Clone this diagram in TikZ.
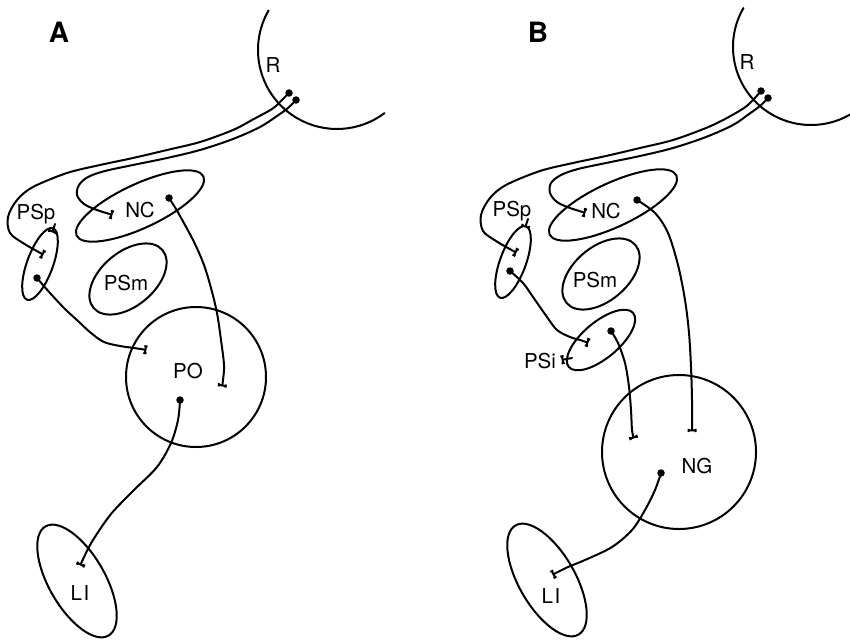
\documentclass[tikz,border=0pt]{standalone}
\usepackage{fontspec}
\setmainfont{TeX Gyre Heros}
\usetikzlibrary{arrows.meta,shapes.geometric}
\tikzset{
  lbl/.style={font=\fontsize{20.5}{24}\selectfont, inner sep=0pt},
  panel/.style={font=\fontsize{28}{32}\selectfont\bfseries, inner sep=0pt},
  fib/.style={line width=2pt, line cap=round, -{Tee Barb[width=9pt,length=3.2pt]}},
  fib0/.style={line width=2pt, line cap=round},
  region/.style={draw, line width=2pt, ellipse, inner sep=0pt, outer sep=0pt},
  nucleus/.style={draw, line width=2pt, circle, inner sep=0pt, outer sep=0pt},
  dot/.style={fill, circle, inner sep=0pt, minimum size=7.5pt},
  sm/.style={smooth, tension=0.55}
}
\begin{document}
\begin{tikzpicture}[x=1pt, y=-1pt]
\useasboundingbox (0,0) rectangle (850,642);
\clip (0,0) rectangle (850,642);
\fill[white] (0,0) rectangle (850,642);

% ================= Panel A =================
\node[panel] (labA) at (59,32) {A};
\coordinate (RcA) at (337,50);
\draw[fib0] ([shift={(210:79)}]RcA) arc[start angle=210, end angle=53, radius=79];
\node[lbl] (RA) at (273,65) {R};

\node[region, minimum width=76pt, minimum height=26pt, rotate=70] (PSpA) at (40,264) {};
\node[region, minimum width=140pt, minimum height=44pt, rotate=25] (NCA) at (140,206) {};
\node[region, minimum width=90pt, minimum height=54pt, rotate=40] (PSmA) at (128,279) {};
\node[nucleus, minimum size=140pt] (POA) at (196,377) {};
\node[region, minimum width=126pt, minimum height=56pt, rotate=-60] (LIA) at (77,581) {};

\node[lbl] (NCAl) at (140,210) {NC};
\node[lbl] (PSpAl) at (36,214) {PSp};
\node[lbl] (PSmAl) at (126,283) {PSm};
\node[lbl] (POAl) at (188,371) {PO};
\node[lbl] (LIAl) at (80,593) {L\kern1.5pt I};

\node[dot] (dA1) at (289,93) {};
\node[dot] (dA2) at (296,100) {};
\node[dot] (dA3) at (169,198) {};
\node[dot] (dA4) at (37,278) {};
\node[dot] (dA5) at (180,400) {};
\coordinate (tA1) at (44,255);
\coordinate (tA2) at (113,215);
\coordinate (tA3) at (222,387);
\coordinate (tA4) at (147,350);
\coordinate (tA5) at (80,566);
\coordinate (sA6) at (55,224);
\coordinate (tA6) at (52,233);

\draw[fib] plot[sm] coordinates {(dA1.center) (281,101) (272,109) (252,120) (233,130) (200,142) (167,150) (133,158) (100,165) (67,173) (33,187) (17,200) (8,217) (10,233) (23,243) (35,250) (tA1)};
\draw[fib] plot[sm] coordinates {(dA2.center) (288,108) (277,116) (260,127) (233,139) (200,150) (167,158) (133,165) (105,171) (88,177) (79,185) (77,195) (84,204) (97,210) (tA2)};
\draw[fib] plot[sm] coordinates {(dA3.center) (176,209) (185,225) (195,244) (204,265) (211,288) (217,313) (221,340) (224,365) (223,380) (tA3)};
\draw[fib] plot[sm] coordinates {(dA4.center) (50,293) (65,309) (78,321) (91,333) (104,342) (120,346) (134,348) (tA4)};
\draw[fib] plot[sm] coordinates {(dA5.center) (178,420) (171,443) (157,467) (134,490) (111,514) (93,540) (85,555) (tA5)};
\draw[fib] (sA6) -- (tA6);

% ================= Panel B =================
\node[panel] (labB) at (538,32) {B};
\coordinate (RcB) at (811,47);
\draw[fib0] ([shift={(210:78)}]RcB) arc[start angle=210, end angle=45, radius=78];
\node[lbl] (RB) at (747,62) {R};

\node[region, minimum width=76pt, minimum height=26pt, rotate=70] (PSpB) at (513,262) {};
\node[region, minimum width=140pt, minimum height=44pt, rotate=25] (NCB) at (613,205) {};
\node[region, minimum width=90pt, minimum height=54pt, rotate=40] (PSmB) at (601,274) {};
\node[region, minimum width=84pt, minimum height=36pt, rotate=40] (PSiB) at (601,340) {};
\node[nucleus, minimum size=154pt] (NGB) at (679,452) {};
\node[region, minimum width=126pt, minimum height=56pt, rotate=-60] (LIB) at (547,580) {};

\node[lbl] (NCBl) at (606,211) {NC};
\node[lbl] (PSpBl) at (512,211) {PSp};
\node[lbl] (PSmBl) at (595,280) {PSm};
\node[lbl] (PSiBl) at (540,361) {PSi};
\node[lbl] (NGBl) at (697,466) {NG};
\node[lbl] (LIBl) at (551,596) {L\kern1.5pt I};

\node[dot] (dB1) at (761,91) {};
\node[dot] (dB2) at (768,98) {};
\node[dot] (dB3) at (637,200) {};
\node[dot] (dB4) at (510,271) {};
\node[dot] (dB5) at (611,331) {};
\node[dot] (dB6) at (661,473) {};
\coordinate (tB1) at (517,253);
\coordinate (tB2) at (586,213);
\coordinate (tB3) at (692,432);
\coordinate (tB4) at (589,343);
\coordinate (tB5) at (634,439);
\coordinate (tB6) at (552,575);
\coordinate (sB7) at (528,219);
\coordinate (tB7) at (525,228);
\coordinate (sB8) at (572,358);
\coordinate (tB8) at (561,360);

\draw[fib] plot[sm] coordinates {(dB1.center) (753,100) (744,108) (725,119) (706,128) (673,140) (640,148) (606,156) (573,163) (540,171) (506,185) (490,198) (481,215) (483,231) (496,241) (508,248) (tB1)};
\draw[fib] plot[sm] coordinates {(dB2.center) (760,106) (749,114) (733,125) (706,137) (673,148) (640,156) (606,163) (578,169) (561,175) (551,183) (550,193) (557,202) (570,208) (tB2)};
\draw[fib] plot[sm] coordinates {(dB3.center) (655,213) (668,233) (678,265) (685,300) (689,333) (691,367) (692,400) (tB3)};
\draw[fib] plot[sm] coordinates {(dB4.center) (523,283) (533,297) (547,317) (557,330) (570,337) (580,340) (tB4)};
\draw[fib] plot[sm] coordinates {(dB5.center) (618,343) (625,363) (629,387) (631,410) (632,430) (tB5)};
\draw[fib] plot[sm] coordinates {(dB6.center) (655,490) (645,510) (632,530) (612,547) (585,560) (568,567) (tB6)};
\draw[fib] (sB7) -- (tB7);
\draw[fib] (sB8) -- (tB8);
\end{tikzpicture}
\end{document}
